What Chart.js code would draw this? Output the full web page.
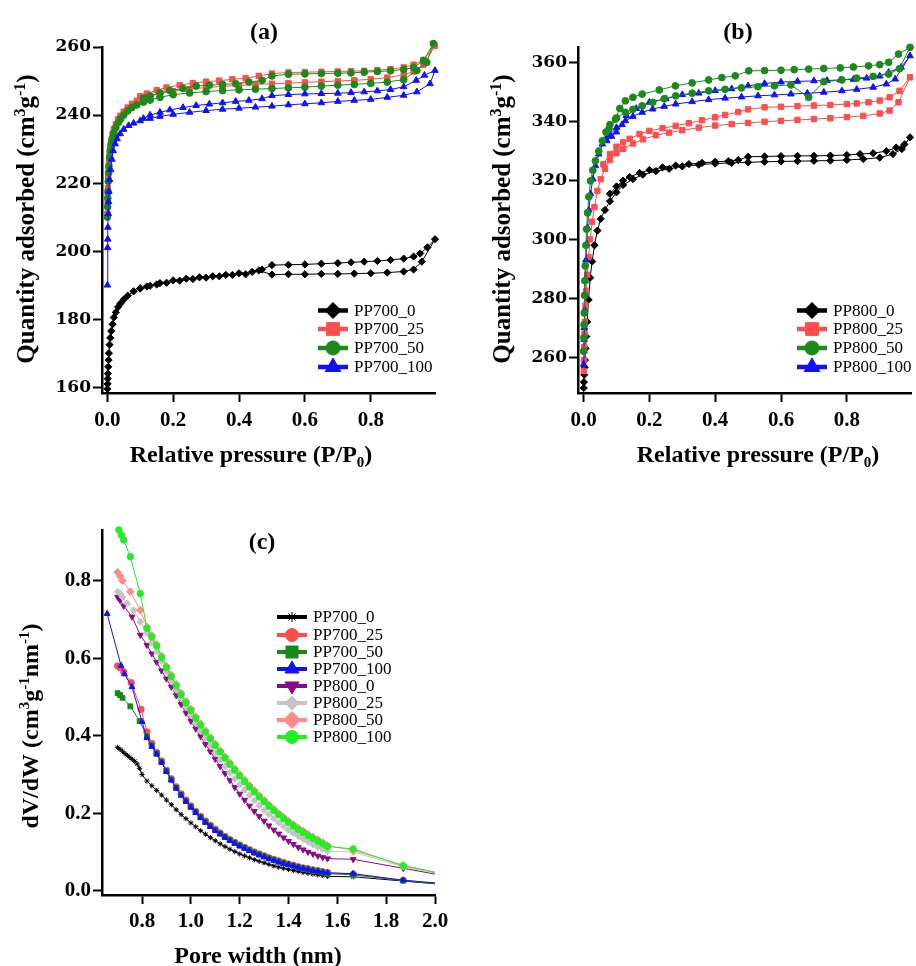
<!DOCTYPE html>
<html><head><meta charset="utf-8">
<script src="https://cdn.jsdelivr.net/npm/chart.js@4.4.1/dist/chart.umd.min.js"></script>
<style>
html,body{margin:0;padding:0;background:#fff;}
body{width:916px;height:966px;position:relative;overflow:hidden;}
canvas{position:absolute;}
</style></head><body>
<canvas id="ca" width="458" height="480" style="left:0;top:0"></canvas>
<canvas id="cb" width="458" height="480" style="left:458px;top:0"></canvas>
<canvas id="cc" width="458" height="486" style="left:0;top:480px"></canvas>
<script>
// ---------------- DATA: panel (a) N2 isotherms, PP700 series ----------------
const pTicksA = [0, 0.2, 0.4, 0.6, 0.8];
const qTicksA = [160, 180, 200, 220, 240, 260];
const a700_0_P = [0.0005,0.001,0.0015,0.002,0.003,0.004,0.005,0.007,0.009,0.012,0.016,0.02,0.026,0.033,0.04,0.05,0.062,0.08,0.1,0.12,0.15,0.18,0.22,0.26,0.3,0.34,0.38,0.42,0.46,0.5,0.55,0.6,0.65,0.7,0.75,0.8,0.85,0.9,0.93,0.955,0.995,0.972,0.95,0.93,0.9,0.86,0.82,0.78,0.74,0.7,0.65,0.6,0.55,0.5,0.47,0.44,0.4,0.36,0.32,0.28,0.24,0.2,0.16,0.13,0.1];
const a700_0_Q = [159.5,161,162.5,164,166,168,170,172.5,174.5,176.5,178.5,180.5,182,183.6,184.6,185.8,186.9,188.2,189,189.6,190.2,190.7,191.3,191.8,192.2,192.6,193,193.2,194.3,193.1,193.2,193.2,193.3,193.3,193.4,193.5,193.7,194,194.6,196.9,203.5,201.1,199.3,198.4,197.8,197.4,197.1,196.9,196.7,196.5,196.3,196.1,196,195.9,194.6,193.9,193.5,193,192.6,192.3,191.9,191.4,190.6,189.8,189.1];
const a700_25_P = [0.0005,0.001,0.0015,0.002,0.003,0.004,0.005,0.007,0.009,0.012,0.016,0.02,0.026,0.033,0.04,0.05,0.062,0.075,0.09,0.11,0.13,0.16,0.2,0.25,0.3,0.35,0.4,0.45,0.5,0.55,0.6,0.65,0.7,0.75,0.8,0.85,0.9,0.93,0.96,0.995,0.96,0.93,0.9,0.86,0.82,0.78,0.74,0.7,0.65,0.6,0.55,0.5,0.46,0.42,0.38,0.34,0.3,0.26,0.22,0.18,0.15,0.12,0.1];
const a700_25_Q = [211,214,216.5,218.5,221.5,224,226,228.5,230.5,232.5,234.3,235.8,237.3,238.7,239.8,241,242.2,243.3,244.2,245,245.6,246.3,247,247.6,248.1,248.4,248.7,249,249.2,249.4,249.6,249.8,250,250.2,250.5,251,251.8,252.8,254.8,260.3,256.2,254.8,254,253.5,253.2,253,252.9,252.8,252.7,252.6,252.5,252.2,251.5,250.8,250.5,250.1,249.8,249.4,248.8,248.1,247.3,246.3,245.5];
const a700_50_P = [0.0005,0.001,0.0015,0.002,0.003,0.004,0.005,0.007,0.009,0.012,0.016,0.02,0.026,0.033,0.04,0.05,0.062,0.075,0.09,0.11,0.13,0.16,0.2,0.25,0.3,0.35,0.4,0.45,0.5,0.55,0.6,0.65,0.7,0.75,0.8,0.85,0.9,0.94,0.97,0.99,0.96,0.93,0.9,0.86,0.82,0.78,0.74,0.7,0.65,0.6,0.55,0.5,0.47,0.43,0.39,0.35,0.31,0.27,0.23,0.19,0.16,0.13,0.11];
const a700_50_Q = [210,213,215.5,217.5,220.5,223,225,227.5,229.5,231.5,233.3,234.8,236.3,237.7,238.8,240,241.2,242.2,243,243.8,244.4,245.2,246,246.5,246.9,247.2,247.4,247.6,247.8,248,248.2,248.5,248.8,249,249.3,249.7,250.4,253.1,255.5,261,256,254,253.4,253,252.8,252.6,252.4,252.3,252.2,252.1,252,251.5,250.2,249.7,249.2,249,248.8,248.5,247.8,247.2,246.5,245.6,245];
const a700_100_P = [0.0005,0.001,0.0015,0.002,0.003,0.004,0.005,0.007,0.01,0.014,0.018,0.024,0.03,0.039,0.05,0.065,0.08,0.1,0.13,0.16,0.2,0.25,0.3,0.35,0.4,0.45,0.5,0.55,0.6,0.65,0.7,0.75,0.8,0.85,0.9,0.94,0.98,0.995,0.963,0.938,0.9,0.86,0.82,0.78,0.74,0.7,0.65,0.6,0.55,0.5,0.47,0.43,0.39,0.35,0.31,0.27,0.23,0.19,0.16,0.13,0.11];
const a700_100_Q = [190,201,203.5,207,211,214.5,217.5,221,224,227,229.5,231.5,233,234.5,235.8,236.9,237.6,238.3,239,239.6,240.2,240.8,241.3,241.7,242,242.3,242.6,243,243.3,243.6,244,244.3,244.6,245.2,245.8,246.8,249.2,253.1,251.7,250.2,248.3,247.5,247.1,246.8,246.6,246.4,246.3,246.2,246,245.7,244.8,244.3,244,243.6,243.2,242.8,242.2,241.5,240.8,240,239];

// ---------------- DATA: panel (b) N2 isotherms, PP800 series ----------------
const pTicksB = [0, 0.2, 0.4, 0.6, 0.8];
const qTicksB = [260, 280, 300, 320, 340, 360];
const b800_0_P = [0.0005,0.001,0.002,0.003,0.004,0.006,0.008,0.011,0.015,0.02,0.026,0.033,0.042,0.052,0.065,0.08,0.1,0.12,0.15,0.18,0.22,0.26,0.3,0.35,0.4,0.45,0.5,0.55,0.6,0.65,0.7,0.75,0.8,0.85,0.9,0.94,0.967,0.992,0.975,0.95,0.92,0.88,0.84,0.8,0.75,0.7,0.65,0.6,0.55,0.5,0.47,0.44,0.4,0.36,0.32,0.28,0.24,0.2,0.17,0.14,0.12,0.1,0.08];
const b800_0_Q = [249.5,251.5,254,256.5,259,263,267,272,279.5,287,292.5,298,303,307,310,313,316,318.5,320.5,322,323.2,324,324.8,325.4,325.8,326,326.2,326.4,326.5,326.6,326.7,326.8,327,327.3,327.8,329,330.7,334.7,332.3,331.2,330,329.3,329,328.7,328.5,328.4,328.4,328.3,328.2,328.1,327,326.6,326.4,326,325.6,325.1,324.5,323.6,322.6,321.2,320,318,315.5];
const b800_25_P = [0.0005,0.001,0.002,0.003,0.004,0.006,0.008,0.011,0.015,0.02,0.026,0.033,0.042,0.052,0.065,0.08,0.1,0.12,0.15,0.18,0.22,0.26,0.3,0.35,0.4,0.45,0.5,0.55,0.6,0.65,0.7,0.75,0.8,0.85,0.9,0.93,0.957,0.992,0.96,0.93,0.9,0.866,0.83,0.8,0.75,0.7,0.65,0.6,0.55,0.5,0.47,0.43,0.4,0.36,0.32,0.28,0.24,0.2,0.17,0.14,0.12,0.1,0.08,0.06];
const b800_25_Q = [255.3,259,263.5,268,272,277.5,282.5,288,294,300,306,311,316.5,320.5,324,327,329.3,330.8,332.6,334,335.4,336.3,337.1,338,338.7,339.2,339.6,340,340.3,340.6,340.9,341.2,341.6,342,342.8,343.8,346.6,355.1,350.5,348.3,347.2,346.6,346.2,346,345.7,345.5,345.3,345.1,344.9,344.2,343.3,342.3,341.5,340.5,339.5,338.6,337.8,336.9,335.8,334.2,333,331.5,329,325.5];
const b800_50_P = [0.0005,0.001,0.0015,0.002,0.003,0.004,0.005,0.007,0.009,0.012,0.016,0.021,0.028,0.036,0.046,0.057,0.068,0.08,0.1,0.127,0.15,0.178,0.21,0.245,0.28,0.33,0.38,0.43,0.48,0.53,0.58,0.63,0.684,0.73,0.785,0.83,0.88,0.927,0.96,0.992,0.957,0.927,0.9,0.866,0.82,0.78,0.73,0.684,0.64,0.6,0.55,0.502,0.461,0.42,0.38,0.33,0.279,0.23,0.178,0.15,0.127,0.11,0.097,0.077];
const b800_50_Q = [262,266.6,271,275,281,286,291,298,303.5,309,314.5,319.9,323.5,326.7,330,333.5,336.5,339,341.3,343.2,344.2,345.4,346.6,347.8,348.8,349.7,350.5,351,351.5,351.9,352.2,352.5,348.3,353.6,354.2,354.8,355.4,356.2,358,365.3,363,360.2,359.4,359,358.6,358.3,358.1,357.9,357.7,357.5,357.4,357.3,355.6,355,354.2,353.2,352.2,350.8,349.4,348.3,347.1,344.5,340.9,337.5];
const b800_100_P = [0.0005,0.001,0.0015,0.002,0.003,0.004,0.005,0.007,0.009,0.012,0.016,0.021,0.028,0.036,0.046,0.057,0.068,0.08,0.1,0.127,0.15,0.178,0.21,0.245,0.28,0.33,0.38,0.43,0.48,0.53,0.58,0.63,0.68,0.73,0.785,0.83,0.88,0.92,0.947,0.992,0.965,0.927,0.9,0.86,0.82,0.78,0.74,0.7,0.65,0.6,0.55,0.5,0.45,0.4,0.35,0.3,0.25,0.2,0.16,0.13,0.117,0.1,0.085,0.07];
const b800_100_Q = [257.6,262,266,270,276,281,286,293,298.5,304,310,315.5,320.5,325,329,332.4,334,335.5,338,340.3,341.8,343.2,344.3,345.2,346,346.8,347.5,348,348.4,348.8,349.1,349.4,349.7,350,350.5,351,351.7,352.8,354.5,362.4,358.5,356.8,355.5,354.8,354.4,354.2,354,353.9,353.7,353.5,353,352.2,351.2,350.6,349.7,349.2,347.8,346.6,344.5,342,339,336.5,335,333.5];

// ---------------- DATA: panel (c) pore size distributions ----------------
const wTicksC = [0.8, 1.0, 1.2, 1.4, 1.6, 1.8, 2.0];
const dTicksC = [0.0, 0.2, 0.4, 0.6, 0.8];
const widthGrid = [0.82,0.84,0.86,0.88,0.90,0.92,0.94,0.96,0.98,1.00,1.02,1.04,1.06,1.08,1.10,1.12,1.14,1.16,1.18,1.20,1.22,1.24,1.26,1.28,1.30,1.32,1.34,1.36,1.38,1.40,1.42,1.44,1.46,1.48,1.50,1.52,1.54,1.56];
const widthTail = [1.665, 1.87, 2.0];
const c700_0_leadW = [0.70,0.71,0.72,0.73,0.74,0.75,0.76,0.77,0.78,0.79,0.80];
const c700_0_leadD = [0.37,0.365,0.36,0.354,0.349,0.344,0.339,0.334,0.327,0.316,0.30];
const c700_0_gridD = [0.283,0.271,0.259,0.247,0.234,0.222,0.209,0.197,0.186,0.175,0.165,0.155,0.146,0.137,0.129,0.121,0.114,0.107,0.101,0.095,0.09,0.085,0.08,0.076,0.072,0.068,0.064,0.061,0.058,0.055,0.052,0.05,0.047,0.045,0.043,0.041,0.039,0.037];
const c700_0_tailD = [0.036,0.025,0.018];
const c700_25_leadW = [0.70,0.71,0.725,0.756,0.796];
const c700_25_leadD = [0.58,0.576,0.565,0.537,0.468];
const c700_25_gridD = [0.41,0.38,0.357,0.335,0.311,0.289,0.268,0.25,0.234,0.219,0.205,0.192,0.18,0.169,0.159,0.149,0.14,0.132,0.125,0.118,0.112,0.106,0.1,0.095,0.09,0.085,0.081,0.077,0.073,0.069,0.066,0.062,0.059,0.057,0.054,0.052,0.049,0.047];
const c700_25_tailD = [0.043,0.027,0.02];
const c700_50_leadW = [0.70,0.71,0.72,0.752,0.79];
const c700_50_leadD = [0.51,0.505,0.498,0.476,0.438];
const c700_50_gridD = [0.398,0.375,0.354,0.333,0.309,0.287,0.266,0.248,0.232,0.217,0.203,0.19,0.178,0.167,0.157,0.148,0.139,0.131,0.124,0.117,0.111,0.105,0.099,0.094,0.089,0.084,0.08,0.075,0.071,0.068,0.064,0.061,0.058,0.055,0.052,0.05,0.047,0.044];
const c700_50_tailD = [0.041,0.026,0.019];
const c700_100_leadW = [0.657,0.714,0.728,0.759,0.80];
const c700_100_leadD = [0.715,0.581,0.559,0.526,0.436];
const c700_100_gridD = [0.395,0.372,0.352,0.331,0.307,0.285,0.264,0.246,0.23,0.215,0.201,0.188,0.176,0.165,0.155,0.146,0.137,0.129,0.122,0.115,0.109,0.103,0.097,0.092,0.087,0.082,0.078,0.074,0.07,0.067,0.064,0.06,0.057,0.055,0.052,0.05,0.048,0.046];
const c700_100_tailD = [0.044,0.027,0.02];
const c800_0_leadW = [0.70,0.71,0.725,0.759,0.793];
const c800_0_leadD = [0.758,0.75,0.735,0.707,0.66];
const c800_0_gridD = [0.634,0.612,0.59,0.568,0.547,0.526,0.504,0.481,0.459,0.438,0.418,0.398,0.378,0.359,0.34,0.321,0.303,0.285,0.267,0.25,0.234,0.219,0.205,0.192,0.18,0.168,0.157,0.147,0.137,0.128,0.12,0.112,0.106,0.1,0.095,0.09,0.086,0.083];
const c800_0_tailD = [0.081,0.058,0.043];
const c800_25_leadW = [0.70,0.71,0.72,0.739,0.766,0.793];
const c800_25_leadD = [0.772,0.767,0.758,0.742,0.724,0.694];
const c800_25_gridD = [0.665,0.64,0.617,0.592,0.567,0.543,0.519,0.496,0.474,0.453,0.432,0.412,0.393,0.374,0.356,0.338,0.321,0.305,0.289,0.274,0.26,0.246,0.233,0.22,0.208,0.197,0.186,0.176,0.166,0.157,0.149,0.141,0.133,0.126,0.119,0.113,0.107,0.102];
const c800_25_tailD = [0.1,0.062,0.046];
const c800_50_leadW = [0.70,0.71,0.72,0.752,0.793];
const c800_50_leadD = [0.822,0.812,0.8,0.772,0.724];
const c800_50_gridD = [0.681,0.659,0.636,0.606,0.58,0.557,0.533,0.51,0.489,0.469,0.449,0.431,0.413,0.396,0.379,0.362,0.346,0.33,0.315,0.3,0.286,0.272,0.259,0.246,0.234,0.222,0.211,0.2,0.19,0.18,0.171,0.162,0.154,0.146,0.139,0.132,0.125,0.117];
const c800_50_tailD = [0.104,0.066,0.047];
const c800_100_leadW = [0.705,0.715,0.725,0.752,0.793];
const c800_100_leadD = [0.931,0.918,0.905,0.862,0.767];
const c800_100_gridD = [0.677,0.655,0.632,0.602,0.576,0.553,0.529,0.506,0.485,0.465,0.445,0.427,0.409,0.392,0.375,0.358,0.342,0.326,0.311,0.296,0.282,0.268,0.255,0.242,0.23,0.218,0.207,0.196,0.186,0.176,0.167,0.158,0.15,0.142,0.135,0.128,0.121,0.114];
const c800_100_tailD = [0.108,0.064,0.048];

// ---------------- helpers ----------------
const FONT = "'Liberation Serif','Times New Roman',serif";
const WIDEFONT = "'DejaVu Serif',serif";
function pts(xs, ys){ return xs.map((x,i)=>({x:x, y:ys[i]})); }
function psd(lw, ld, gd, td){ return pts(lw.concat(widthGrid, widthTail), ld.concat(gd, td)); }

function series(label, data, color, style, r, extra){
  return Object.assign({label:label, data:data, borderColor:color, backgroundColor:color,
    pointBackgroundColor:color, pointBorderColor:color, borderWidth:1, pointRadius:r,
    pointBorderWidth:1, pointStyle:style, pointRotation:0, showLine:true, tension:0, clip:false,
    legendRadius:7, legendRotation:0}, extra||{});
}

function drawRich(ctx, runs, x, y, rot, size){
  ctx.save(); ctx.translate(x,y); ctx.rotate(rot);
  const big = 'bold '+size+'px '+FONT, small = 'bold '+Math.round(size*0.62)+'px '+FONT;
  let w=0; runs.forEach(r=>{ctx.font=r[1]?small:big; w+=ctx.measureText(r[0]).width;});
  let cx=-w/2; ctx.textBaseline='alphabetic'; ctx.textAlign='left'; ctx.fillStyle='#000';
  const base=size*0.33;
  runs.forEach(r=>{ctx.font=r[1]?small:big; const dy=r[1]==='sup'?-size*0.36:(r[1]==='sub'?size*0.2:0);
    ctx.fillText(r[0],cx,base+dy); cx+=ctx.measureText(r[0]).width;});
  ctx.restore();
}

function decorPlugin(texts, legend){
  return {id:'decor', afterDraw(chart){
    const ctx=chart.ctx;
    texts.forEach(t=>drawRich(ctx,t.runs,t.x,t.y,t.rot||0,t.size||24));
    if(legend){
      ctx.save();
      chart.data.datasets.forEach((ds,i)=>{
        const y=legend.rows[i], x0=legend.x;
        ctx.strokeStyle=ds.borderColor; ctx.lineWidth=legend.lw;
        ctx.beginPath(); ctx.moveTo(x0,y); ctx.lineTo(x0+legend.len,y); ctx.stroke();
        ctx.fillStyle=ds.borderColor; ctx.lineWidth=1;
        Chart.helpers.drawPoint(ctx,{pointStyle:ds.pointStyle,radius:ds.legendRadius,rotation:ds.legendRotation,borderWidth:ds.pointStyle==='star'?3:1},x0+legend.len/2,y);
        ctx.fillStyle='#000'; ctx.font=legend.font; ctx.textBaseline='middle'; ctx.textAlign='left';
        ctx.fillText(ds.label,x0+legend.len+legend.gap,y+1);
      });
      ctx.restore();
    }
  }};
}

function axes(o){
  return {
    x:{type:'linear',min:o.xmin,max:o.xmax,
      border:{display:true,color:'#000',width:2.5},
      grid:{drawOnChartArea:false,drawTicks:true,tickLength:9,tickWidth:2,tickColor:'#000',color:'#000'},
      ticks:{color:'#000',font:{family:FONT,size:21,weight:'bold'},padding:o.xpad,maxRotation:0,autoSkip:false,
        callback:v=>Number(v).toFixed(1)},
      afterBuildTicks:s=>{s.ticks=o.xticks.map(v=>({value:v}));},
      afterFit:s=>{s.height=o.xh;}},
    y:{type:'linear',min:o.ymin,max:o.ymax,
      border:{display:true,color:'#000',width:2.5},
      grid:{drawOnChartArea:false,drawTicks:true,tickLength:9,tickWidth:2,tickColor:'#000',color:'#000'},
      ticks:{color:'#000',font:o.yfont,padding:o.ypad,autoSkip:false,
        callback:v=>o.ydec?Number(v).toFixed(1):String(v)},
      afterBuildTicks:s=>{s.ticks=o.yticks.map(v=>({value:v}));},
      afterFit:s=>{s.width=o.yw;}}
  };
}

const baseOpts = {responsive:false, animation:false, events:[],
  plugins:{legend:{display:false}, tooltip:{enabled:false}}};

const xTitleRuns = [['Relative pressure (P/P'],['0','sub'],[')']];

// ---------------- chart (a) ----------------
new Chart(document.getElementById('ca'), {
  type:'scatter',
  data:{datasets:[
    series('PP700_0', pts(a700_0_P,a700_0_Q), '#000000', 'rectRot', 3.6, {legendRadius:8, order:4}),
    series('PP700_25', pts(a700_25_P,a700_25_Q), '#ff4d4d', 'rect', 3.8, {legendRadius:9, order:3}),
    series('PP700_50', pts(a700_50_P,a700_50_Q), '#1b8a1b', 'circle', 3.4, {legendRadius:7, order:2}),
    series('PP700_100', pts(a700_100_P,a700_100_Q), '#1010ff', 'triangle', 3.8, {legendRadius:9, order:1})
  ]},
  options:Object.assign({}, baseOpts, {
    layout:{padding:{left:0, top:47, right:23, bottom:0}},
    scales:axes({xmin:-0.016, xmax:0.995, xticks:pTicksA, xh:87, xpad:6,
      ymin:158.3, ymax:260, yticks:qTicksA, yw:102, ypad:2,
      yfont:{family:WIDEFONT, size:17, weight:'bold'}})
  }),
  plugins:[decorPlugin([
    {runs:[['(a)']], x:264, y:31, size:24},
    {runs:[['Quantity adsorbed (cm'],['3','sup'],['g'],['-1','sup'],[')']], x:26, y:219, rot:-Math.PI/2, size:25},
    {runs:xTitleRuns, x:251, y:454, size:24}
  ], {x:318, len:30, gap:6, lw:4.5, rows:[310.5,329,348,367], font:'17px '+FONT})]
});

// ---------------- chart (b) ----------------
new Chart(document.getElementById('cb'), {
  type:'scatter',
  data:{datasets:[
    series('PP800_0', pts(b800_0_P,b800_0_Q), '#000000', 'rectRot', 3.6, {legendRadius:8, order:4}),
    series('PP800_25', pts(b800_25_P,b800_25_Q), '#ff4d4d', 'rect', 3.8, {legendRadius:9, order:3}),
    series('PP800_50', pts(b800_50_P,b800_50_Q), '#1b8a1b', 'circle', 3.4, {legendRadius:7, order:1}),
    series('PP800_100', pts(b800_100_P,b800_100_Q), '#1010ff', 'triangle', 3.8, {legendRadius:9, order:2})
  ]},
  options:Object.assign({}, baseOpts, {
    layout:{padding:{left:0, top:47, right:4, bottom:0}},
    scales:axes({xmin:-0.017, xmax:0.995, xticks:pTicksB, xh:87, xpad:6,
      ymin:247.8, ymax:365.4, yticks:qTicksB, yw:120, ypad:2,
      yfont:{family:WIDEFONT, size:17, weight:'bold'}})
  }),
  plugins:[decorPlugin([
    {runs:[['(b)']], x:280, y:31, size:24},
    {runs:[['Quantity adsorbed (cm'],['3','sup'],['g'],['-1','sup'],[')']], x:44, y:219, rot:-Math.PI/2, size:25},
    {runs:xTitleRuns, x:300, y:454, size:24}
  ], {x:339, len:30, gap:6, lw:4.5, rows:[310.5,329,348,367], font:'17px '+FONT})]
});

// ---------------- chart (c) ----------------
new Chart(document.getElementById('cc'), {
  type:'scatter',
  data:{datasets:[
    series('PP700_0', psd(c700_0_leadW,c700_0_leadD,c700_0_gridD,c700_0_tailD), '#000000', 'star', 2.6, {legendRadius:5, order:8}),
    series('PP700_25', psd(c700_25_leadW,c700_25_leadD,c700_25_gridD,c700_25_tailD), '#ff4d4d', 'circle', 3.2, {legendRadius:6.5, order:6}),
    series('PP700_50', psd(c700_50_leadW,c700_50_leadD,c700_50_gridD,c700_50_tailD), '#158a15', 'rect', 3.4, {legendRadius:8.5, order:5}),
    series('PP700_100', psd(c700_100_leadW,c700_100_leadD,c700_100_gridD,c700_100_tailD), '#1010ff', 'triangle', 3.4, {legendRadius:8, order:1}),
    series('PP800_0', psd(c800_0_leadW,c800_0_leadD,c800_0_gridD,c800_0_tailD), '#8b0a8b', 'triangle', 3.4, {legendRadius:8, pointRotation:180, legendRotation:180, order:7}),
    series('PP800_25', psd(c800_25_leadW,c800_25_leadD,c800_25_gridD,c800_25_tailD), '#c4c4c4', 'rectRot', 3.4, {legendRadius:7, order:4}),
    series('PP800_50', psd(c800_50_leadW,c800_50_leadD,c800_50_gridD,c800_50_tailD), '#ff8c8c', 'rectRot', 3.8, {legendRadius:8.5, order:3}),
    series('PP800_100', psd(c800_100_leadW,c800_100_leadD,c800_100_gridD,c800_100_tailD), '#22ee22', 'circle', 3.2, {legendRadius:6.5, order:0})
  ].map(ds=>{ const r=ds.pointRadius; ds.pointRadius=(c)=>(c.raw && c.raw.x>=2.0)?0:r; return ds; })},
  options:Object.assign({}, baseOpts, {
    layout:{padding:{left:0, top:50, right:23, bottom:0}},
    scales:axes({xmin:0.636, xmax:2.0, xticks:wTicksC, xh:71, xpad:5,
      ymin:-0.011, ymax:0.931, yticks:dTicksC, yw:102, ypad:2, ydec:true,
      yfont:{family:FONT, size:21, weight:'bold'}})
  }),
  plugins:[decorPlugin([
    {runs:[['(c)']], x:262, y:61, size:24},
    {runs:[['dV/dW (cm'],['3','sup'],['g'],['-1','sup'],['nm'],['-1','sup'],[')']], x:30, y:246, rot:-Math.PI/2, size:24},
    {runs:[['Pore width (nm)']], x:258, y:475, size:24}
  ], {x:277, len:30, gap:6, lw:4, rows:[137,155,172,189,206,223,240,257], font:'17px '+FONT})]
});
</script>
</body></html>
